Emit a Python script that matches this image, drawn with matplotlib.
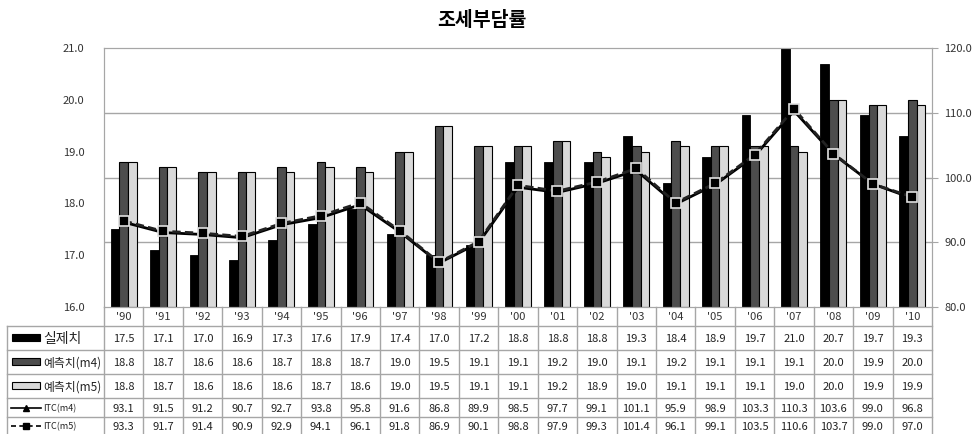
"""조세부담률 chart with Excel-style data table."""

import matplotlib

matplotlib.use("Agg")

import matplotlib.pyplot as plt
from matplotlib.lines import Line2D
from matplotlib.patches import Rectangle

plt.rcParams["font.family"] = ["Noto Sans CJK KR", "DejaVu Sans"]

years = ["'90", "'91", "'92", "'93", "'94", "'95", "'96", "'97", "'98", "'99", "'00",
         "'01", "'02", "'03", "'04", "'05", "'06", "'07", "'08", "'09", "'10"]
actual = [17.5, 17.1, 17.0, 16.9, 17.3, 17.6, 17.9, 17.4, 17.0, 17.2, 18.8,
          18.8, 18.8, 19.3, 18.4, 18.9, 19.7, 21.0, 20.7, 19.7, 19.3]
pred_m4 = [18.8, 18.7, 18.6, 18.6, 18.7, 18.8, 18.7, 19.0, 19.5, 19.1, 19.1,
           19.2, 19.0, 19.1, 19.2, 19.1, 19.1, 19.1, 20.0, 19.9, 20.0]
pred_m5 = [18.8, 18.7, 18.6, 18.6, 18.6, 18.7, 18.6, 19.0, 19.5, 19.1, 19.1,
           19.2, 18.9, 19.0, 19.1, 19.1, 19.1, 19.0, 20.0, 19.9, 19.9]
itc_m4 = [93.1, 91.5, 91.2, 90.7, 92.7, 93.8, 95.8, 91.6, 86.8, 89.9, 98.5,
          97.7, 99.1, 101.1, 95.9, 98.9, 103.3, 110.3, 103.6, 99.0, 96.8]
itc_m5 = [93.3, 91.7, 91.4, 90.9, 92.9, 94.1, 96.1, 91.8, 86.9, 90.1, 98.8,
          97.9, 99.3, 101.4, 96.1, 99.1, 103.5, 110.6, 103.7, 99.0, 97.0]
left_ticks = [16, 17, 18, 19, 20, 21]
right_ticks = [80, 90, 100, 110, 120]

W, H = 973, 434
GRID = "#a6a6a6"
DARK = "#4d4d4d"
LIGHT = "#d9d9d9"

# plot area in pixels
PL, PR, PT, PB = 104, 932, 48, 307

fig = plt.figure(figsize=(W / 100, H / 100), dpi=100)
ax = fig.add_axes([PL / W, 1 - PB / H, (PR - PL) / W, (PB - PT) / H])
x = list(range(len(years)))
bw = 0.22
ax.bar([i - bw for i in x], [v - 16 for v in actual], bw, bottom=16, color="black",
       edgecolor="black", linewidth=0.6, zorder=2)
ax.bar(x, [v - 16 for v in pred_m4], bw, bottom=16, color=DARK,
       edgecolor="black", linewidth=0.8, zorder=2)
ax.bar([i + bw for i in x], [v - 16 for v in pred_m5], bw, bottom=16, color=LIGHT,
       edgecolor="black", linewidth=0.8, zorder=2)
ax.set_xlim(-0.5, len(years) - 0.5)
ax.set_ylim(16, 21)
ax.set_yticks(left_ticks)
ax.set_yticklabels([f"{v:.1f}" for v in left_ticks])
ax.tick_params(axis="y", length=0, pad=14, labelsize=8, colors="#333333")
ax.set_xticks([])
for s in ax.spines.values():
    s.set_color(GRID)

ax2 = ax.twinx()
ax2.set_ylim(80, 120)
ax2.set_yticks(right_ticks)
ax2.set_yticklabels([f"{v:.1f}" for v in right_ticks])
ax2.tick_params(axis="y", length=4, pad=5, labelsize=8, colors="#333333", color=GRID)
for s in ax2.spines.values():
    s.set_color(GRID)
ax2.plot(x, itc_m4, color="black", linewidth=2.0, marker="^", markersize=5,
         markerfacecolor="black", zorder=3)
ax2.plot(x, itc_m5, color="#222222", linewidth=2.0, linestyle=(0, (3, 1.5)), marker="s",
         markersize=7, markerfacecolor="black", markeredgecolor="#e0e0e0",
         markeredgewidth=1.2, zorder=4)

# gridlines follow the right axis but sit behind the bars
for v in right_ticks[1:-1]:
    ax.axhline(16 + (v - 80) / 40 * 5, color=GRID, linewidth=1.0, zorder=1)
ax.patch.set_visible(False)
ax2.patch.set_visible(False)

fig.text(0.495, 1 - 20 / H, "조세부담률", ha="center", va="center",
         fontsize=14, fontweight="bold")

# data table in pixel coordinates
tab = fig.add_axes([0, 0, 1, 1])
tab.set_xlim(0, W)
tab.set_ylim(H, 0)
tab.axis("off")
cat = (PR - PL) / len(years)
rows = [326, 350, 374, 398, 417, 434]
HL = 7

tab.plot([HL, HL], [rows[0], H], color=GRID, lw=1)
for k in range(len(years) + 1):
    xx = PL + k * cat
    tab.plot([xx, xx], [PB, H], color=GRID, lw=1)
for yy in rows[:-1]:
    tab.plot([HL, PR], [yy, yy], color=GRID, lw=1)

series = [actual, pred_m4, pred_m5, itc_m4, itc_m5]
for i, yr in enumerate(years):
    cx = PL + (i + 0.5) * cat
    tab.text(cx, (PB + rows[0]) / 2 + 1, yr, ha="center", va="center", fontsize=8,
             color="#333333")
    for r, vals in enumerate(series):
        tab.text(cx, (rows[r] + rows[r + 1]) / 2 + 1, f"{vals[i]:.1f}", ha="center",
                 va="center", fontsize=8, color="#222222")

labels = ["실제치", "예측치(m4)", "예측치(m5)", "ITC(m4)", "ITC(m5)"]
sizes = [10, 8.5, 8.5, 6.5, 6.5]
fills = ["black", DARK, LIGHT]
for r, lab in enumerate(labels):
    cy = (rows[r] + rows[r + 1]) / 2
    if r < 3:
        tab.add_patch(Rectangle((12, cy - 4), 28, 7, facecolor=fills[r],
                                edgecolor="black", lw=0.8))
    else:
        style = "-" if r == 3 else (0, (3, 2))
        mk = "^" if r == 3 else "s"
        tab.add_line(Line2D([11, 41], [cy, cy], color="black", lw=1.2, linestyle=style))
        tab.add_line(Line2D([26], [cy], marker=mk, markersize=4, color="black"))
    tab.text(43, cy + 1, lab, ha="left", va="center", fontsize=sizes[r], color="#222222")

fig.savefig("out.png", dpi=100, facecolor="white")
